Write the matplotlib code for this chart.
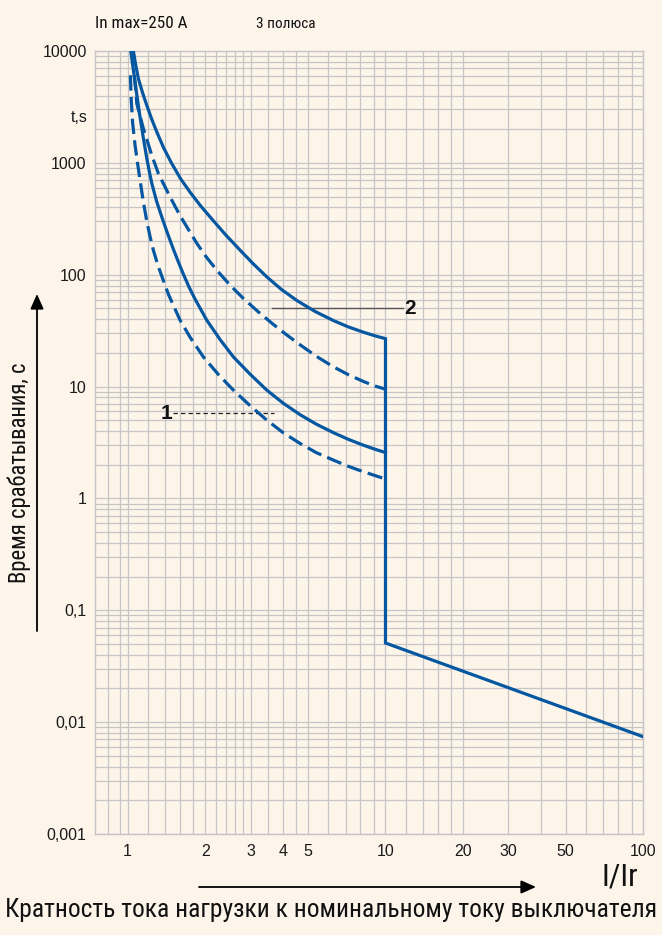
import os
import matplotlib
matplotlib.use("Agg")
import matplotlib.pyplot as plt
from matplotlib import font_manager as fm
from matplotlib.ticker import FixedLocator, FixedFormatter, NullFormatter

# ---------------- data ----------------
upper_solid_x = [1.0523, 1.0731, 1.1004, 1.1424, 1.1861, 1.2381, 1.2971, 1.3785, 1.4829, 1.6043,
                 1.7467, 1.9096, 2.0878, 2.3878, 2.7303, 3.0665, 3.4657, 3.9380, 4.5311, 5.3358,
                 6.2844, 7.1654, 8.2156, 9.1211, 10.0]
upper_solid_t = [10000, 7605, 5668, 4231, 3271, 2478, 1889, 1364, 985.6, 721,
                 546, 418, 328.5, 230, 165.6, 125.4, 95.6, 74.2, 58.8, 46.9,
                 38.9, 34.2, 30.6, 28.4, 26.8]

upper_dashed_x = [1.0607, 1.0760, 1.0847, 1.1506, 1.2403, 1.3158, 1.4606, 1.5971, 1.8535, 2.0144,
                  2.2170, 2.4967, 2.8118, 3.2064, 3.6757, 4.1367, 4.6667, 5.3836, 6.2844, 7.1654,
                  8.2156, 9.1211, 10.0]
upper_dashed_t = [6065, 4454, 3388, 2026, 1169, 802, 496, 336.9, 191.2, 144.8,
                  109.7, 80.6, 61.3, 46.7, 35.9, 29.0, 23.6, 18.7, 15.0, 12.8,
                  11.1, 10.1, 9.48]

lower_solid_x = [1.0281, 1.0476, 1.0683, 1.0925, 1.1172, 1.1476, 1.1861, 1.2107, 1.2403, 1.2947,
                 1.3563, 1.4222, 1.5043, 1.5689, 1.6448, 1.7311, 1.8264, 2.0271, 2.2835, 2.5713,
                 2.9855, 3.4657, 4.0090, 4.6667, 5.3836, 6.2844, 7.1654, 8.2156, 9.1211, 10.0]
lower_solid_t = [10000, 7302, 5253, 3626, 2556, 1729, 1099, 859, 657, 454,
                 328.5, 239.8, 169.0, 132.0, 101.0, 77.3, 60.4, 39.2, 26.3, 18.4,
                 12.9, 9.29, 7.11, 5.60, 4.62, 3.87, 3.38, 2.99, 2.75, 2.57]

lower_dashed_x = [1.0244, 1.0327, 1.0448, 1.0683, 1.0925, 1.1172, 1.1476, 1.1861, 1.2216, 1.2580,
                  1.3063, 1.3563, 1.4388, 1.5971, 1.7467, 1.9665, 2.2430, 2.5713, 2.9855, 3.4657,
                  4.0090, 4.6667, 5.3836, 6.2844, 7.1654, 8.2156, 9.1211, 10.0]
lower_dashed_t = [6065, 3626, 2306, 1437, 991.7, 699, 463, 300.8, 218.6, 165.6,
                  124.1, 97.0, 66.9, 39.2, 27.6, 18.4, 12.9, 9.29, 6.75, 5.01,
                  3.87, 3.10, 2.57, 2.20, 1.94, 1.73, 1.60, 1.49]

# instantaneous trip part (continues the upper solid curve)
inst_x = [10.0, 10.0, 100.0]
inst_t = [26.8, 0.051, 0.0074]

x_tick_values = [1, 2, 3, 4, 5, 10, 20, 30, 50, 100]
x_tick_labels = ["1", "2", "3", "4", "5", "10", "20", "30", "50", "100"]
y_tick_values = [0.001, 0.01, 0.1, 1, 10, 100, 1000, 10000]
y_tick_labels = ["0,001", "0,01", "0,1", "1", "10", "100", "1000", "10000"]

x_grid_values = [0.84, 0.93, 1, 1.2, 1.4, 1.6, 1.8, 2, 2.2, 2.4, 2.6, 2.8, 3, 3.5, 4, 4.5,
                 5, 6, 7, 8, 9, 10, 12, 14, 16, 18, 20, 30, 40, 50, 60, 70, 80, 90, 100]

# curve labels (leader lines)
label1_text = "1"
label1_x = [1.50, 3.68]
label1_t = [5.75, 5.75]
label2_text = "2"
label2_x = [3.62, 11.7]
label2_t = [50.2, 50.2]

header_left = "In max=250 A"
header_right = "3 полюса"
y_unit = "t,s"
y_title = "Время срабатывания, с"
x_unit = "I/Ir"
x_title = "Кратность тока нагрузки к номинальному току выключателя"

# ---------------- style ----------------
W, H = 662, 935
BG = "#fdf4ea"
GRID = "#c6c6c6"
BLUE = "#0457a0"
LW = 2.3

names = {f.name: f.fname for f in fm.fontManager.ttflist}


def find_narrow():
    prefs = ["LiberationSansNarrow-Regular", "RobotoCondensed-Regular", "DejaVuSansCondensed.",
             "NotoSans-Condensed.", "NotoSans-Condensed-Regular", "OpenSans-CondensedRegular",
             "OpenSans_Condensed-Regular"]
    files = [f.fname for f in fm.fontManager.ttflist]
    for p in prefs:
        for fn in files:
            if p.lower() in os.path.basename(fn).lower():
                return fn
    return None


narrow_file = find_narrow()
regular_family = "Liberation Sans" if "Liberation Sans" in names else "DejaVu Sans"


def narrow_prop(size):
    if narrow_file:
        return fm.FontProperties(fname=narrow_file, size=size)
    return fm.FontProperties(family=regular_family, size=size, stretch="condensed")


plt.rcParams["font.family"] = [regular_family, "DejaVu Sans"]

fig = plt.figure(figsize=(W / 100, H / 100), dpi=100, facecolor=BG)
ax = fig.add_axes([95 / W, 1 - 834 / H, (643.3 - 95) / W, (834 - 51) / H])
ax.set_facecolor(BG)
ax.set_xscale("log")
ax.set_yscale("log")
ax.set_xlim(0.747, 100)
ax.set_ylim(0.001, 10000)

ax.xaxis.set_major_locator(FixedLocator(x_tick_values))
ax.xaxis.set_major_formatter(FixedFormatter(x_tick_labels))
ax.xaxis.set_minor_locator(FixedLocator(x_grid_values))
ax.xaxis.set_minor_formatter(NullFormatter())
ax.yaxis.set_major_locator(FixedLocator(y_tick_values))
ax.yaxis.set_major_formatter(FixedFormatter(y_tick_labels))
y_grid_values = [m * 10.0 ** k for k in range(-3, 4) for m in range(1, 10)] + [10000]
ax.yaxis.set_minor_locator(FixedLocator(y_grid_values))
ax.yaxis.set_minor_formatter(NullFormatter())

ax.tick_params(which="both", length=0)
ax.tick_params(axis="x", pad=7, labelsize=11.5, labelcolor="#1a1a1a")
ax.tick_params(axis="y", pad=6, labelsize=11.5, labelcolor="#1a1a1a")
ax.set_axisbelow(True)
ax.grid(True, which="both", color=GRID, lw=0.9)
for s in ax.spines.values():
    s.set_color(GRID)
    s.set_linewidth(1.0)

# leader lines (under the curves)
ax.plot(label2_x, label2_t, color="#555555", lw=1.0, zorder=1.5)
ax.plot(label1_x, label1_t, color="#222222", lw=0.9, dashes=(3.5, 2.5), zorder=1.5)
ax.text(label2_x[-1] * 1.015, label2_t[-1], label2_text, ha="left", va="center",
        fontsize=15, fontweight="bold", color="#111111")
ax.text(label1_x[0] / 1.01, label1_t[0], label1_text, ha="right", va="center",
        fontsize=15, fontweight="bold", color="#111111")

# curves
ax.plot(upper_dashed_x, upper_dashed_t, color=BLUE, lw=LW, dashes=(4.8, 2.0), zorder=3)
ax.plot(lower_dashed_x, lower_dashed_t, color=BLUE, lw=LW, dashes=(4.8, 2.0), zorder=3)
ax.plot(upper_solid_x + inst_x[1:], upper_solid_t + inst_t[1:], color=BLUE, lw=LW,
        solid_joinstyle="miter", zorder=3.2)
ax.plot(lower_solid_x, lower_solid_t, color=BLUE, lw=LW, zorder=3.2)

# ---------------- texts ----------------
renderer = fig.canvas.get_renderer()


def ftext(x, y, s, target_w=None, rotation=0, **kw):
    t = fig.text(x / W, 1 - y / H, s, **kw)
    if target_w:
        for _ in range(3):
            bb = t.get_window_extent(renderer)
            t.set_fontsize(t.get_fontsize() * target_w / bb.width)
    if rotation:
        t.set_rotation(rotation)
    return t


ftext(95, 28.5, header_left, target_w=93, ha="left", va="baseline",
      fontproperties=narrow_prop(12), color="#111111")
ftext(255.7, 28.5, header_right, target_w=59.5, ha="left", va="baseline",
      fontproperties=narrow_prop(12), color="#111111")
ftext(87.5, 118, y_unit, ha="right", va="center", fontsize=11.5, color="#1a1a1a")
ftext(19, 473, y_title, target_w=220, rotation=90, ha="center", va="center",
      rotation_mode="anchor", fontproperties=narrow_prop(15), color="#111111")
ftext(638.5, 886, x_unit, target_w=36.6, ha="right", va="baseline",
      fontproperties=narrow_prop(22), color="#111111")
ftext(331, 917, x_title, target_w=654, ha="center", va="baseline",
      fontproperties=narrow_prop(18), color="#111111")

# arrows
arrow_style = "-|>,head_length=0.9,head_width=0.4"
ax.annotate("", xy=(536, H - 887), xytext=(199, H - 887), xycoords="figure pixels",
            textcoords="figure pixels", annotation_clip=False,
            arrowprops=dict(arrowstyle=arrow_style, color="black", lw=1.3,
                            mutation_scale=10, shrinkA=0, shrinkB=0))
ax.annotate("", xy=(37, H - 294), xytext=(37, H - 631), xycoords="figure pixels",
            textcoords="figure pixels", annotation_clip=False,
            arrowprops=dict(arrowstyle=arrow_style, color="black", lw=1.3,
                            mutation_scale=10, shrinkA=0, shrinkB=0))

fig.savefig("out.png", dpi=100, facecolor=BG)
